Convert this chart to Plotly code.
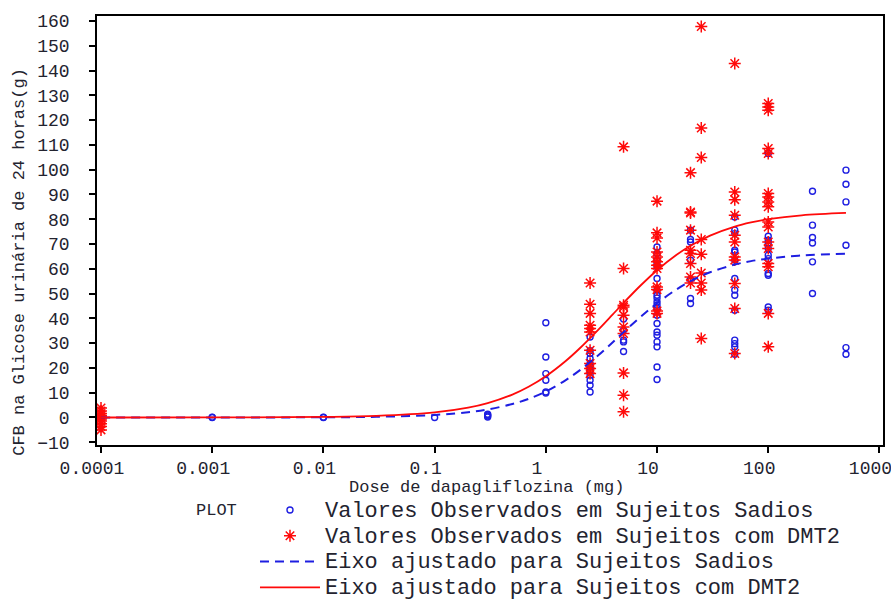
import plotly.graph_objects as go

# Observed 24-h urinary glucose change from baseline (g) by dapagliflozin dose (mg)
healthy_doses = [0.001, 0.01, 0.1, 0.3, 1, 2.5, 5, 10, 20, 50, 100, 250, 500]
healthy_values = [
    [0.0, 0.1],
    [0.0, 0.1],
    [0.0],
    [0.2, 0.6, 1.0, 1.3],
    [38.2, 24.4, 17.7, 15.0, 10.3, 9.9],
    [32.5, 27.0, 25.8, 23.8, 21.8, 20.5, 19.1, 17.1, 15.0, 13.0, 10.3],
    [39.7, 35.2, 31.2, 30.5, 26.6],
    [68.8, 66.2, 63.5, 62.1, 60.8, 56.1, 51.4, 49.3, 48.2, 46.6, 45.3, 44.0,
     41.3, 37.9, 34.5, 33.2, 30.5, 28.5, 20.4, 15.3],
    [75.6, 71.8, 70.8, 63.5, 55.7, 48.0, 46.0],
    [80.9, 75.6, 74.2, 67.5, 66.8, 63.5, 56.1, 51.4, 49.3, 43.3, 31.2, 29.8, 28.5, 25.5],
    [106.5, 73.1, 71.5, 70.4, 68.2, 65.5, 64.1, 58.1, 57.4, 44.6, 43.3],
    [91.3, 77.6, 72.6, 70.4, 62.8, 50.0],
    [99.8, 94.1, 87.0, 69.5, 28.2, 25.5],
]

t2dm_doses = [0.0001, 2.5, 5, 10, 20, 25, 50, 100]
t2dm_values = [
    [3.8, 2.6, 1.6, 0.8, 0.2, -0.6, -1.4, -2.5, -3.6, -5.0],
    [54.3, 45.7, 42.0, 37.2, 35.9, 34.5, 27.1, 21.8, 19.8, 17.7],
    [109.2, 60.1, 45.3, 44.6, 41.3, 36.5, 33.9, 18.0, 9.0, 2.3],
    [87.3, 74.5, 72.4, 66.8, 64.8, 62.8, 61.4, 60.1, 52.7, 51.6, 43.0, 42.0],
    [98.8, 82.9, 82.5, 75.6, 67.5, 66.2, 62.1, 56.7, 54.3],
    [157.8, 116.8, 104.9, 71.8, 65.9, 58.3, 54.3, 51.4, 31.9],
    [142.8, 91.0, 87.9, 81.6, 73.5, 70.8, 64.8, 63.5, 54.1, 44.0, 25.8],
    [126.7, 125.3, 124.0, 108.5, 106.5, 90.4, 89.0, 87.0, 85.0, 78.9, 76.9,
     70.8, 68.2, 62.1, 60.8, 42.0, 28.5],
]

# Fitted Emax curves, read along the dose grid
curve_doses = [0.0001, 0.001, 0.01, 0.03, 0.1, 0.2, 0.3, 0.5, 0.7, 1, 1.5, 2, 3, 4,
               5, 7, 10, 15, 20, 30, 50, 70, 100, 200, 500]
fit_healthy = [0.0, 0.01, 0.09, 0.28, 1.02, 2.13, 3.24, 5.43, 7.53, 10.5, 15.0, 18.9,
               25.3, 30.4, 34.4, 40.3, 46.1, 51.7, 55.0, 58.6, 61.7, 63.1, 64.1, 65.4, 66.07]
fit_t2dm = [0.0, 0.02, 0.21, 0.62, 2.03, 3.96, 5.80, 9.24, 12.39, 16.64, 22.69, 27.73,
            35.66, 41.6, 46.22, 52.95, 59.43, 65.68, 69.33, 73.41, 77.04, 78.7, 80.0,
            81.57, 82.54]

x_tick_vals = [0.0001, 0.001, 0.01, 0.1, 1, 10, 100, 1000]
x_tick_text = ["0.0001", "0.001", "0.01", "0.1", "1", "10", "100", "1000"]

series_names = [
    "Valores Observados em Sujeitos Sadios",
    "Valores Observados em Sujeitos com DMT2",
    "Eixo ajustado para Sujeitos Sadios",
    "Eixo ajustado para Sujeitos com DMT2",
]

BLUE = "rgb(30,30,225)"
RED = "rgb(255,10,10)"
MONO = "Liberation Mono, Courier New, monospace"
TEXT = "#23232f"


def flatten(doses, groups):
    xs, ys = [], []
    for d, vals in zip(doses, groups):
        xs += [d] * len(vals)
        ys += vals
    return xs, ys


def legend_label(name):
    # larger glyphs than the legend row height would otherwise allow
    return '<span style="font-size:22px">' + name + "</span>"


hx, hy = flatten(healthy_doses, healthy_values)
tx, ty = flatten(t2dm_doses, t2dm_values)

fig = go.Figure()
fig.add_trace(go.Scatter(
    x=hx, y=hy, mode="markers", name=legend_label(series_names[0]),
    marker=dict(symbol="circle-open", size=6, color=BLUE, line=dict(width=1.4, color=BLUE)),
))
fig.add_trace(go.Scatter(
    x=tx, y=ty, mode="markers", name=legend_label(series_names[1]),
    marker=dict(symbol="asterisk-open", size=10, color=RED, line=dict(width=1.5, color=RED)),
))
fig.add_trace(go.Scatter(
    x=curve_doses, y=fit_healthy, mode="lines", name=legend_label(series_names[2]),
    line=dict(color=BLUE, width=2, dash="9px,6px", shape="spline"),
))
fig.add_trace(go.Scatter(
    x=curve_doses, y=fit_t2dm, mode="lines", name=legend_label(series_names[3]),
    line=dict(color=RED, width=1.8, shape="spline"),
))

axis_common = dict(
    showline=True, linecolor="black", linewidth=1.5, mirror=True,
    ticks="outside", ticklen=6, tickwidth=1.5, tickcolor="black",
    showgrid=False, zeroline=False,
    tickfont=dict(family=MONO, size=18, color=TEXT),
)

fig.update_xaxes(type="log", range=[-4.036, 3.032], tickmode="array",
                 tickvals=x_tick_vals, ticktext=x_tick_text,
                 ticklabelshift=-9, ticklabeloverflow="allow", **axis_common)
fig.update_yaxes(range=[-11.1, 162], tickmode="linear", tick0=-10, dtick=10,
                 ticklabelstandoff=16, **axis_common)

fig.add_annotation(text="Dose de dapagliflozina (mg)", xref="paper", yref="paper",
                   x=0.495, y=-0.1, xanchor="center", yanchor="middle", showarrow=False,
                   font=dict(family=MONO, size=17, color=TEXT))
fig.add_annotation(text="CFB na Glicose urinária de 24 horas(g)", xref="paper", yref="paper",
                   x=-0.098, y=0.427, xanchor="center", yanchor="middle", textangle=-90,
                   showarrow=False, font=dict(family=MONO, size=17, color=TEXT))
fig.add_annotation(text="PLOT", xref="paper", yref="paper",
                   x=0.123, y=-0.153, xanchor="left", yanchor="middle", showarrow=False,
                   font=dict(family=MONO, size=17, color=TEXT))

fig.update_layout(
    width=891, height=601,
    margin=dict(l=97, r=8, t=16, b=156, autoexpand=False),
    paper_bgcolor="white", plot_bgcolor="white",
    showlegend=True,
    legend=dict(
        x=0.201, y=-0.11, xanchor="left", yanchor="top",
        font=dict(family=MONO, size=17.5, color=TEXT),
        itemwidth=60, tracegroupgap=0, bgcolor="rgba(0,0,0,0)",
    ),
)

fig.write_html("out.html")
